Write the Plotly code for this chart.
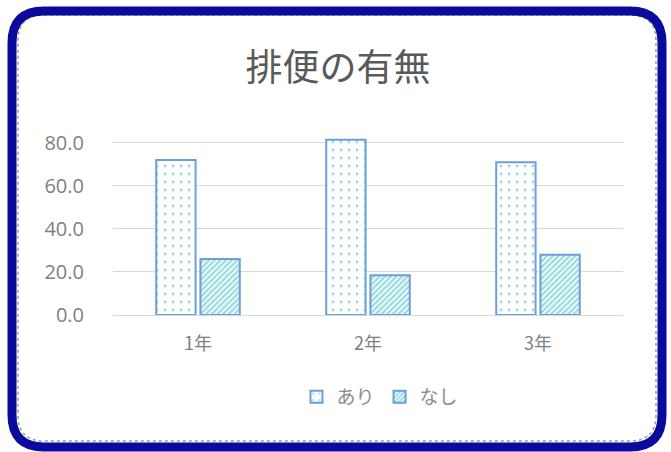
import plotly.graph_objects as go

categories = ["1年", "2年", "3年"]
ari = [72.0, 81.5, 71.0]
nashi = [26.0, 18.5, 28.0]
series_names = ["あり", "なし"]
y_ticks = [0, 20, 40, 60, 80]
title_text = "排便の有無"

W, H = 671, 452
ML, MR, MT, MB = 113, 48, 130, 137
PW, PH = W - ML - MR, H - MT - MB

def px(x):
    return (x - ML) / PW

def py(y):
    return (H - MB - y) / PH

def rrect(x0, y0, x1, y1, r):
    return (f"M {px(x0+r)} {py(y0)} L {px(x1-r)} {py(y0)} "
            f"Q {px(x1)} {py(y0)} {px(x1)} {py(y0+r)} "
            f"L {px(x1)} {py(y1-r)} Q {px(x1)} {py(y1)} {px(x1-r)} {py(y1)} "
            f"L {px(x0+r)} {py(y1)} Q {px(x0)} {py(y1)} {px(x0)} {py(y1-r)} "
            f"L {px(x0)} {py(y0+r)} Q {px(x0)} {py(y0)} {px(x0+r)} {py(y0)} Z")

line_col = "#6a9fd9"
pat_col = "#35b8c2"
font_cjk = "Noto Sans CJK JP"

fig = go.Figure()
fig.add_trace(go.Bar(
    x=categories, y=ari, name=series_names[0],
    marker=dict(color="white", line=dict(color=line_col, width=2),
                pattern=dict(shape=".", fgcolor=pat_col, bgcolor="white",
                             size=8, solidity=0.1, fillmode="overlay")),
))
fig.add_trace(go.Bar(
    x=categories, y=nashi, name=series_names[1],
    marker=dict(color="white", line=dict(color=line_col, width=2),
                pattern=dict(shape="/", fgcolor=pat_col, bgcolor="white",
                             size=4, solidity=0.6, fillmode="overlay")),
))

fig.update_layout(
    width=W, height=H,
    margin=dict(l=ML, r=MR, t=MT, b=MB),
    paper_bgcolor="white", plot_bgcolor="white",
    barmode="group", bargap=0.48, bargroupgap=0.11,
    title=dict(text=title_text, x=338 / W, xref="container", xanchor="center",
               y=1 - 68 / H, yref="container", yanchor="middle",
               font=dict(family=font_cjk, size=37, color="#595959")),
    showlegend=True,
    legend=dict(orientation="h", x=px(380), xanchor="center", y=py(397), yanchor="middle",
                font=dict(family=font_cjk, size=19, color="#8c8c8c"),
                itemwidth=30, tracegroupgap=0, bgcolor="rgba(0,0,0,0)"),
    xaxis=dict(showline=True, linecolor="#d9d9d9", linewidth=1, ticks="",
               ticklabelstandoff=12,
               tickfont=dict(family=font_cjk, size=18, color="#7f7f7f")),
    yaxis=dict(range=[0, 86], tickvals=y_ticks, tickformat=".1f",
               showgrid=True, gridcolor="#d9d9d9", gridwidth=1, zeroline=False,
               ticks="", ticklabelstandoff=28,
               tickfont=dict(family="Open Sans", size=20, color="#7f7f7f")),
    shapes=[
        dict(type="path", xref="paper", yref="paper", path=rrect(18, 15, 656, 441, 26),
             line=dict(color="#9a9a9a", width=1.5, dash="dot"), layer="below"),
        dict(type="path", xref="paper", yref="paper", path=rrect(12, 11, 662, 447, 32),
             line=dict(color="#0a0a9c", width=9), layer="above"),
    ],
)

fig.write_html("out.html", config={"displayModeBar": False},
               post_script="document.body.style.margin='0';")
